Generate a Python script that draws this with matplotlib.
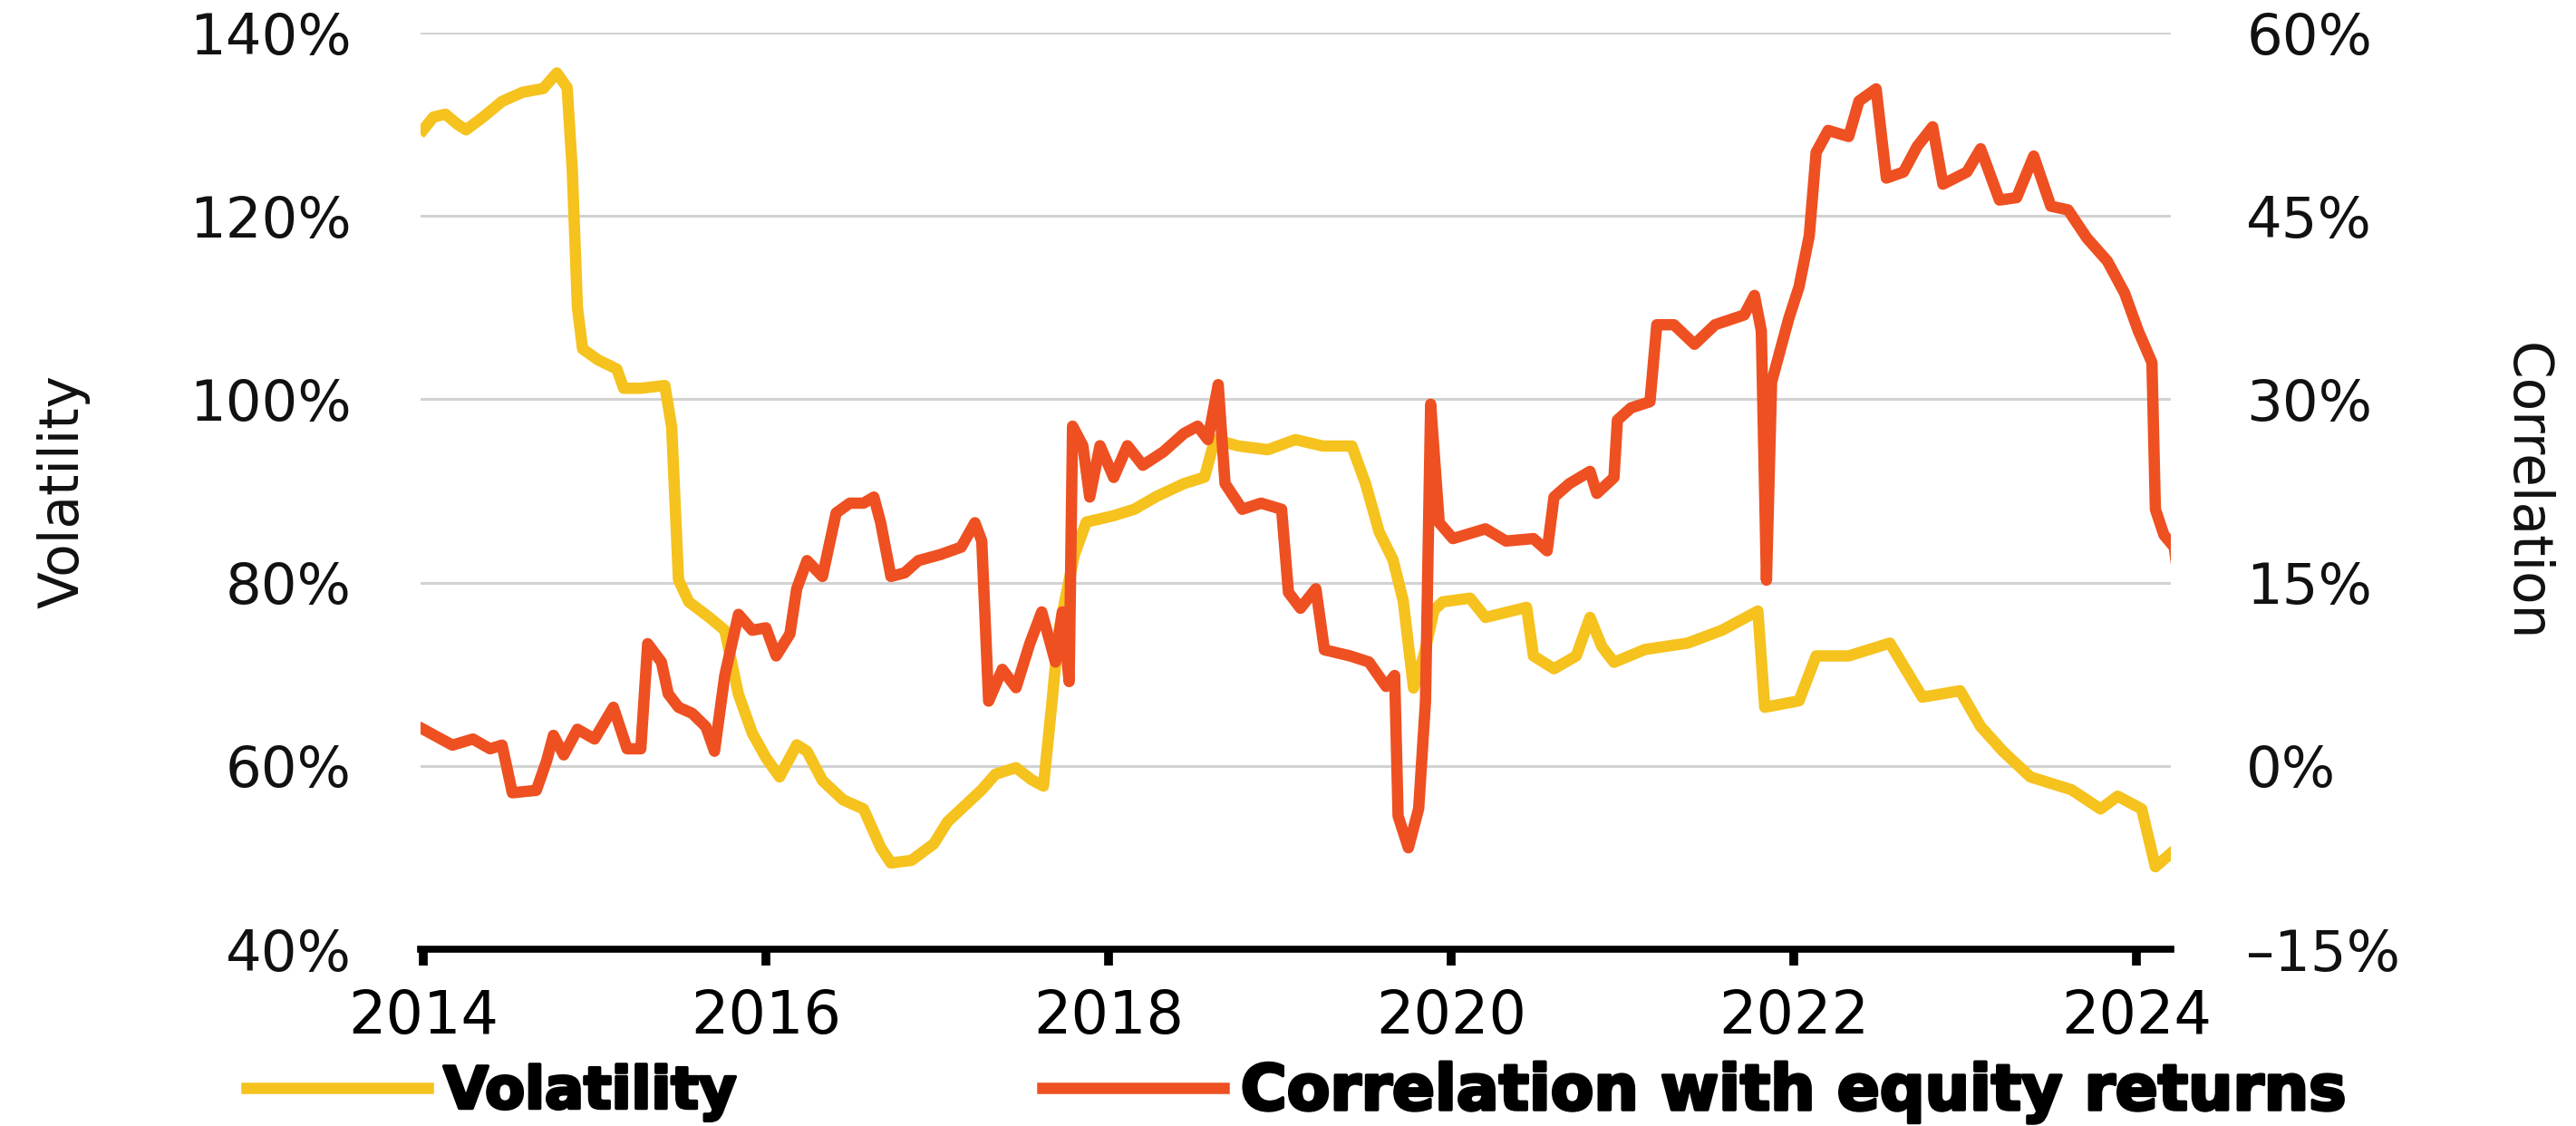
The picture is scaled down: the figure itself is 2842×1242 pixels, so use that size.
import matplotlib
matplotlib.use("Agg")
import matplotlib.pyplot as plt
from matplotlib.lines import Line2D
import matplotlib.patheffects as pe

# volatility (left axis, %)
vol_year = [2014.00, 2014.06, 2014.13, 2014.20, 2014.25, 2014.35, 2014.46, 2014.58, 2014.70, 2014.78,
            2014.84, 2014.87, 2014.90, 2014.93, 2015.02, 2015.13, 2015.17, 2015.27, 2015.41, 2015.45,
            2015.49, 2015.55, 2015.67, 2015.76, 2015.84, 2015.92, 2016.00, 2016.08, 2016.18, 2016.24,
            2016.33, 2016.45, 2016.57, 2016.67, 2016.73, 2016.85, 2016.98, 2017.06, 2017.18, 2017.26,
            2017.34, 2017.46, 2017.55, 2017.62, 2017.67, 2017.71, 2017.80, 2017.87, 2018.03, 2018.15,
            2018.28, 2018.44, 2018.56, 2018.62, 2018.76, 2018.93, 2019.09, 2019.25, 2019.42, 2019.50,
            2019.58, 2019.66, 2019.72, 2019.78, 2019.84, 2019.90, 2019.95, 2020.11, 2020.20, 2020.44,
            2020.48, 2020.60, 2020.73, 2020.81, 2020.88, 2020.95, 2021.13, 2021.38, 2021.58, 2021.79,
            2021.83, 2022.03, 2022.13, 2022.32, 2022.56, 2022.75, 2022.97, 2023.09, 2023.22, 2023.38,
            2023.62, 2023.79, 2023.89, 2024.03, 2024.11, 2024.24]
vol_val = [129.4, 130.8, 131.1, 130.0, 129.4, 130.8, 132.5, 133.5, 133.9, 135.6,
           134.0, 125.0, 110.0, 105.5, 104.3, 103.3, 101.2, 101.2, 101.5, 97.0,
           80.3, 77.9, 76.2, 74.8, 67.8, 63.6, 60.9, 58.8, 62.3, 61.6,
           58.4, 56.3, 55.3, 51.1, 49.4, 49.7, 51.5, 53.9, 56.0, 57.4,
           59.1, 59.8, 58.5, 57.8, 67.0, 74.8, 83.0, 86.6, 87.3, 88.0,
           89.4, 90.8, 91.5, 95.6, 94.9, 94.5, 95.6, 94.9, 94.9, 90.8,
           85.5, 82.5, 78.0, 68.5, 72.0, 77.0, 77.9, 78.3, 76.2, 77.3,
           72.0, 70.6, 72.0, 76.2, 73.0, 71.3, 72.7, 73.4, 74.8, 76.9,
           66.4, 67.1, 72.0, 72.0, 73.4, 67.5, 68.2, 64.3, 61.6, 58.8,
           57.4, 55.3, 56.7, 55.3, 49.0, 51.1]

# correlation with equity returns (right axis, %)
corr_year = [2014.00, 2014.17, 2014.29, 2014.39, 2014.46, 2014.52, 2014.66, 2014.72, 2014.76, 2014.82,
             2014.90, 2015.00, 2015.11, 2015.19, 2015.27, 2015.31, 2015.39, 2015.43, 2015.49, 2015.57,
             2015.65, 2015.70, 2015.76, 2015.84, 2015.92, 2016.00, 2016.06, 2016.14, 2016.18, 2016.24,
             2016.33, 2016.41, 2016.49, 2016.57, 2016.63, 2016.67, 2016.73, 2016.81, 2016.89, 2017.02,
             2017.14, 2017.22, 2017.26, 2017.30, 2017.38, 2017.46, 2017.54, 2017.61, 2017.69, 2017.73,
             2017.77, 2017.79, 2017.85, 2017.89, 2017.95, 2018.03, 2018.11, 2018.20, 2018.32, 2018.44,
             2018.52, 2018.58, 2018.64, 2018.68, 2018.78, 2018.89, 2019.01, 2019.05, 2019.12, 2019.21,
             2019.26, 2019.41, 2019.52, 2019.62, 2019.67, 2019.69, 2019.75, 2019.81, 2019.85, 2019.88,
             2019.93, 2020.01, 2020.20, 2020.32, 2020.48, 2020.56, 2020.60, 2020.69, 2020.81, 2020.85,
             2020.95, 2020.97, 2021.05, 2021.16, 2021.20, 2021.30, 2021.42, 2021.54, 2021.71, 2021.77,
             2021.81, 2021.84, 2021.87, 2021.97, 2022.03, 2022.09, 2022.13, 2022.20, 2022.32, 2022.38,
             2022.48, 2022.54, 2022.64, 2022.72, 2022.81, 2022.87, 2023.01, 2023.09, 2023.20, 2023.30,
             2023.40, 2023.50, 2023.60, 2023.71, 2023.83, 2023.93, 2024.01, 2024.09, 2024.11, 2024.16,
             2024.22, 2024.24]
corr_val = [3.0, 1.7, 2.2, 1.4, 1.7, -2.2, -2.0, 0.4, 2.5, 0.9,
            3.0, 2.2, 4.8, 1.4, 1.4, 10.0, 8.5, 5.9, 4.8, 4.3,
            3.2, 1.2, 7.4, 12.4, 11.1, 11.3, 9.0, 10.8, 14.5, 16.8,
            15.5, 20.7, 21.5, 21.5, 22.0, 19.9, 15.5, 15.8, 16.8, 17.3,
            17.9, 19.9, 18.4, 5.3, 7.9, 6.4, 10.0, 12.6, 8.5, 12.6,
            6.9, 27.8, 26.2, 22.0, 26.2, 23.6, 26.2, 24.6, 25.7, 27.2,
            27.8, 26.7, 31.2, 23.1, 21.0, 21.5, 21.0, 14.2, 12.9, 14.5,
            9.5, 9.0, 8.5, 6.5, 7.4, -4.1, -6.7, -3.5, 5.3, 29.6,
            19.9, 18.6, 19.4, 18.4, 18.6, 17.6, 22.0, 23.1, 24.1, 22.3,
            23.6, 28.3, 29.3, 29.8, 36.1, 36.1, 34.5, 36.1, 36.9, 38.5,
            35.6, 15.2, 31.4, 36.6, 39.2, 43.4, 50.2, 52.0, 51.5, 54.4,
            55.4, 48.1, 48.6, 50.7, 52.3, 47.6, 48.6, 50.5, 46.3, 46.5,
            49.9, 45.8, 45.5, 43.2, 41.3, 38.7, 35.6, 33.0, 21.0, 18.9,
            17.9, 15.8]

vol_ticks = [40, 60, 80, 100, 120, 140]
corr_ticks = [-15, 0, 15, 30, 45, 60]
year_ticks = [2014, 2016, 2018, 2020, 2022, 2024]

YELLOW = "#F5C21E"
RED = "#EE5022"
LW = 9

fig = plt.figure(figsize=(28.42, 12.42), dpi=100)
ax = fig.add_axes([0.1633, 0.157, 0.6794, 0.814])
ax2 = ax.twinx()

ax.plot(vol_year, vol_val, color=YELLOW, lw=LW, solid_joinstyle="round", zorder=3)
ax2.plot(corr_year, corr_val, color=RED, lw=LW, solid_joinstyle="round", zorder=3)

ax.set_xlim(2013.985, 2024.2)
ax.set_ylim(40, 140)
ax2.set_ylim(-15, 60)

ax.set_xticks(year_ticks)
ax.set_xticklabels([str(y) for y in year_ticks])
ax.set_yticks(vol_ticks)
ax.set_yticklabels([f"{v}%" for v in vol_ticks])
ax2.set_yticks(corr_ticks)
ax2.set_yticklabels([f"{v}%".replace("-", "\u2013") for v in corr_ticks])

ax.yaxis.grid(True, color="#d2d2d2", lw=2.2)
ax.set_axisbelow(True)

for s in ["left", "right", "top"]:
    ax.spines[s].set_visible(False)
for s in ax2.spines.values():
    s.set_visible(False)
ax.spines["bottom"].set_linewidth(5.5)
ax.spines["bottom"].set_color("black")

ax.tick_params(axis="x", length=13, width=7, direction="out", pad=18,
               labelsize=47, colors="black")
ax.tick_params(axis="y", length=0, pad=55, labelsize=45, labelcolor="#111111")
ax2.tick_params(axis="y", length=0, pad=60, labelsize=45, labelcolor="#111111")

fig.text(70 / 2842, 1 - 542 / 1242, "Volatility", rotation=90, ha="center", va="center",
         fontsize=43, color="#111111")
fig.text(2786 / 2842, 1 - 543 / 1242, "Correlation", rotation=270, ha="center", va="center",
         fontsize=43, color="#111111")

# legend below the axis
h_vol = Line2D([], [], color=YELLOW, lw=LW)
h_corr = Line2D([], [], color=RED, lw=LW)
for h, lab, x0, size in [(h_vol, "Volatility", 272, 46),
                         (h_corr, "Correlation with equity returns", 1150, 50)]:
    leg = fig.legend(handles=[h], labels=[lab], loc="center left",
                     bbox_to_anchor=(x0 / 2842, 1 - 1205 / 1242), frameon=False,
                     borderpad=0, borderaxespad=0, handlelength=200 / (size * 100 / 72),
                     handletextpad=0.27, prop={"weight": "bold", "size": size})
    for t in leg.get_texts():
        t.set_path_effects([pe.withStroke(linewidth=2.5, foreground="black")])

fig.savefig("out.png", dpi=100, facecolor="white")
